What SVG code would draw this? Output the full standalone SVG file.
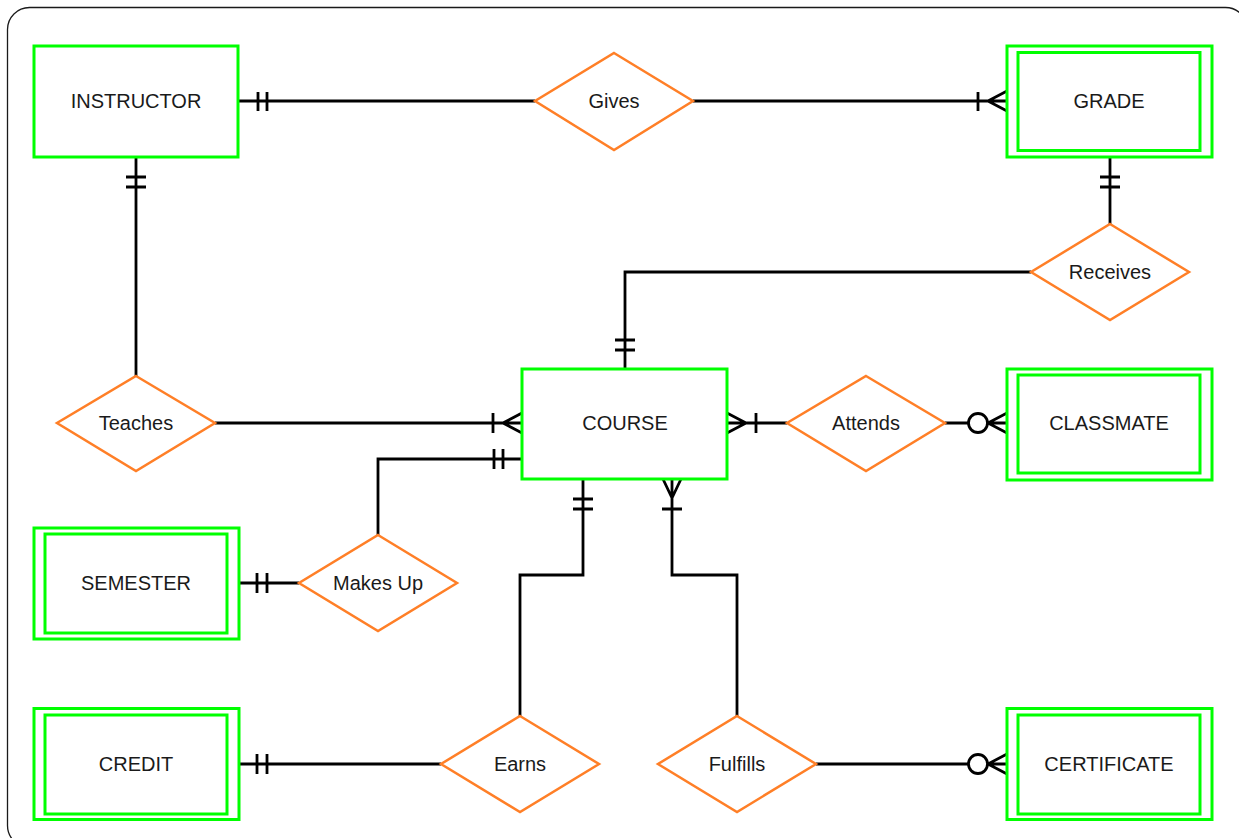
<svg xmlns="http://www.w3.org/2000/svg" width="1239" height="838" viewBox="0 0 1239 838">
  <style>
    .ent { fill: #ffffff; stroke: #00ff00; stroke-width: 3; }
    .rel { fill: #ffffff; stroke: #ff7f27; stroke-width: 2.5; }
    .lbl { font-family: "Liberation Sans", Arial, sans-serif; font-size: 20px; fill: #1a1a1a; text-anchor: middle; }
    .ln { fill: none; stroke: #000000; stroke-width: 2.8; }
    .ring { fill: #ffffff; stroke: #000000; stroke-width: 2.8; }
  </style>

  <!-- frame -->
  <rect x="7.5" y="7.5" width="1240" height="840" rx="22" ry="22" fill="#ffffff" stroke="#1a1a1a" stroke-width="1.3"/>

  <!-- connectors and cardinality marks -->
  <g id="connectors">
    <!-- INSTRUCTOR - Gives -->
    <path class="ln" d="M238 101 H535 M258 92 V111 M267 92 V111"/>
    <!-- Gives - GRADE -->
    <path class="ln" d="M693 101 H1007 M978 92 V111 M988 101 L1007 91 M988 101 L1007 111"/>
    <!-- GRADE - Receives -->
    <path class="ln" d="M1110 157 V224 M1100 177 H1120 M1100 187 H1120"/>
    <!-- Receives - COURSE -->
    <path class="ln" d="M1031 272 H625 V369 M615 340 H635 M615 350 H635"/>
    <!-- INSTRUCTOR - Teaches -->
    <path class="ln" d="M136 157 V376 M126 177 H146 M126 187 H146"/>
    <!-- Teaches - COURSE -->
    <path class="ln" d="M215 423 H522 M493 413 V433 M503 423 L522 413 M503 423 L522 433"/>
    <!-- Makes Up - COURSE -->
    <path class="ln" d="M378 535 V459 H522 M494 449 V469 M503 449 V469"/>
    <!-- SEMESTER - Makes Up -->
    <path class="ln" d="M239 583 H299 M257 573 V593 M267 573 V593"/>
    <!-- COURSE - Attends -->
    <path class="ln" d="M727 423 H787 M746 423 L727 413 M746 423 L727 433 M756 413 V433"/>
    <!-- Attends - CLASSMATE -->
    <path class="ln" d="M945 423 H1007 M988 423 L1007 413 M988 423 L1007 433"/>
    <circle class="ring" cx="978" cy="423" r="9.5"/>
    <!-- COURSE - Earns -->
    <path class="ln" d="M583 479 V575 H520 V716 M573 499 H593 M573 509 H593"/>
    <!-- COURSE - Fulfills -->
    <path class="ln" d="M672 479 V575 H737 V716 M672 498 L663 479 M672 498 L681 479 M662 509 H682"/>
    <!-- CREDIT - Earns -->
    <path class="ln" d="M239 764 H441 M257 754 V774 M267 754 V774"/>
    <!-- Fulfills - CERTIFICATE -->
    <path class="ln" d="M816 764 H1007 M988 764 L1007 754 M988 764 L1007 774"/>
    <circle class="ring" cx="978" cy="764" r="9.5"/>
  </g>

  <!-- entities -->
  <g id="instructor">
    <rect class="ent" x="34" y="46" width="204" height="111"/>
    <text class="lbl" x="136" y="108">INSTRUCTOR</text>
  </g>
  <g id="grade">
    <rect class="ent" x="1007" y="46" width="205" height="111"/>
    <rect class="ent" x="1018" y="52.5" width="182" height="98"/>
    <text class="lbl" x="1109" y="108">GRADE</text>
  </g>
  <g id="course">
    <rect class="ent" x="522" y="369" width="205" height="110"/>
    <text class="lbl" x="625" y="430">COURSE</text>
  </g>
  <g id="classmate">
    <rect class="ent" x="1007" y="369" width="205" height="111"/>
    <rect class="ent" x="1018" y="375" width="182" height="98"/>
    <text class="lbl" x="1109" y="430">CLASSMATE</text>
  </g>
  <g id="semester">
    <rect class="ent" x="34" y="528" width="205" height="111"/>
    <rect class="ent" x="45" y="534" width="182" height="99"/>
    <text class="lbl" x="136" y="590">SEMESTER</text>
  </g>
  <g id="credit">
    <rect class="ent" x="34" y="708.5" width="205" height="111"/>
    <rect class="ent" x="45" y="715" width="182" height="99"/>
    <text class="lbl" x="136" y="771">CREDIT</text>
  </g>
  <g id="certificate">
    <rect class="ent" x="1007" y="708.5" width="205" height="111"/>
    <rect class="ent" x="1018" y="715" width="182" height="99"/>
    <text class="lbl" x="1109" y="771">CERTIFICATE</text>
  </g>

  <!-- relationships -->
  <g id="gives">
    <polygon class="rel" points="614,53 693,101 614,150 535,101"/>
    <text class="lbl" x="614" y="108">Gives</text>
  </g>
  <g id="receives">
    <polygon class="rel" points="1110,224 1189,272 1110,320 1031,272"/>
    <text class="lbl" x="1110" y="279">Receives</text>
  </g>
  <g id="teaches">
    <polygon class="rel" points="136,376 215,423 136,471 57,423"/>
    <text class="lbl" x="136" y="430">Teaches</text>
  </g>
  <g id="attends">
    <polygon class="rel" points="866,376 945,423 866,471 787,423"/>
    <text class="lbl" x="866" y="430">Attends</text>
  </g>
  <g id="makes-up">
    <polygon class="rel" points="378,535 457,583 378,631 299,583"/>
    <text class="lbl" x="378" y="590">Makes Up</text>
  </g>
  <g id="earns">
    <polygon class="rel" points="520,716 599,764 520,812 441,764"/>
    <text class="lbl" x="520" y="771">Earns</text>
  </g>
  <g id="fulfills">
    <polygon class="rel" points="737,716 816,764 737,812 658,764"/>
    <text class="lbl" x="737" y="771">Fulfills</text>
  </g>
</svg>
